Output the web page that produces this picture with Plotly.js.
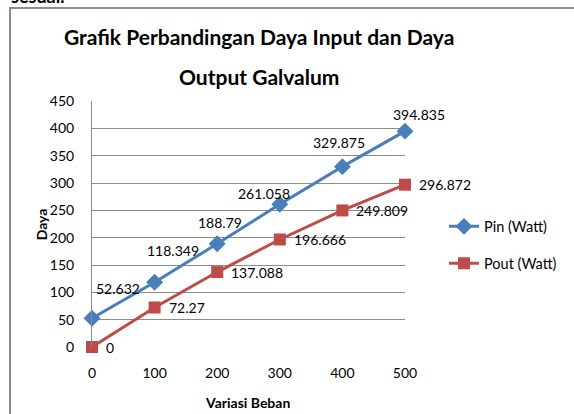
<!DOCTYPE html>
<html><head><meta charset="utf-8">
<script src="https://cdn.plot.ly/plotly-3.0.1.min.js"></script>
<style>
html,body{margin:0;padding:0;background:#fff;overflow:hidden;}
#frame{position:absolute;left:9px;top:7px;width:600px;height:420px;border:2px solid #8c8c8c;box-sizing:border-box;}
#chart{position:absolute;left:0;top:0;width:574px;height:414px;}
</style></head>
<body>
<div id="frame"></div>
<div id="chart"></div>
<script>
const beban = [0, 100, 200, 300, 400, 500];
const pin = [52.632, 118.349, 188.79, 261.058, 329.875, 394.835];
const pout = [0, 72.27, 137.088, 196.666, 249.809, 296.872];
const pinLabels = ['52.632', '118.349', '188.79', '261.058', '329.875', '394.835'];
const poutLabels = ['0', '72.27', '137.088', '196.666', '249.809', '296.872'];
const yTicks = [0, 50, 100, 150, 200, 250, 300, 350, 400, 450];
const xTicks = [0, 100, 200, 300, 400, 500];

const F = 'Lato, "Open Sans", sans-serif';

// label placement (pixel shifts) for the Pin labels, mimicking Excel's automatic placement
const pinShift = [[26, 30], [18, 32], [3, 21], [-16, 11], [-3, 24], [14, 17]];

const traces = [
  {x: beban, y: pin, name: 'Pin (Watt)', legendgroup: 'a', mode: 'lines+markers',
   line: {color: '#4a7ebb', width: 3},
   marker: {symbol: 'diamond', size: 13, color: '#4a7ebb'}, cliponaxis: false},
  {x: beban, y: pout, name: 'Pout (Watt)', legendgroup: 'b', mode: 'lines+markers',
   line: {color: '#be4b48', width: 3},
   marker: {symbol: 'square', size: 12, color: '#be4b48'}, cliponaxis: false}
];

const labelFont = {family: F, size: 14, color: '#000'};
const labelAnns = [];
beban.forEach((xv, i) => {
  labelAnns.push({x: xv, y: pin[i], xref: 'x', yref: 'y', text: pinLabels[i], showarrow: false,
    xanchor: 'center', yanchor: 'middle', xshift: pinShift[i][0], yshift: pinShift[i][1], font: labelFont});
  labelAnns.push({x: xv, y: pout[i], xref: 'x', yref: 'y', text: poutLabels[i], showarrow: false,
    xanchor: 'left', yanchor: 'middle', xshift: 12, yshift: 0, font: labelFont});
});

const layout = {
  width: 574, height: 414,
  margin: {l: 92, r: 169, t: 101, b: 67},
  paper_bgcolor: 'rgba(0,0,0,0)', plot_bgcolor: 'rgba(0,0,0,0)',
  font: {family: F, size: 14, color: '#000'},
  showlegend: true,
  legend: {x: 1.1246, y: 0.415, xanchor: 'left', yanchor: 'middle',
           font: {family: F, size: 14.5, color: '#000'}, tracegroupgap: 15},
  xaxis: {range: [0, 500], tickvals: xTicks, showgrid: false, zeroline: false,
          showline: false, ticks: '', ticklabelstandoff: 16},
  yaxis: {range: [0, 450], tickvals: yTicks, showgrid: true, gridcolor: '#8c8c8c', gridwidth: 1,
          zeroline: false, showline: true, linecolor: '#8c8c8c', ticks: '', ticklabelstandoff: 14},
  annotations: labelAnns.concat([
    {text: '<b>Grafik Perbandingan Daya Input dan Daya</b>', xref: 'paper', yref: 'paper',
     x: 0.5335, y: 1.262, xanchor: 'center', yanchor: 'middle', showarrow: false,
     font: {family: F, size: 21, color: '#000'}},
    {text: '<b>Output Galvalum</b>', xref: 'paper', yref: 'paper',
     x: 0.5335, y: 1.1016, xanchor: 'center', yanchor: 'middle', showarrow: false,
     font: {family: F, size: 21, color: '#000'}},
    {text: '<b>Variasi Beban</b>', xref: 'paper', yref: 'paper',
     x: 0.498, y: -0.2276, xanchor: 'center', yanchor: 'middle', showarrow: false,
     font: {family: F, size: 14, color: '#000'}},
    {text: '<b>Daya</b>', xref: 'paper', yref: 'paper', textangle: -90,
     x: -0.162, y: 0.5, xanchor: 'center', yanchor: 'middle', showarrow: false,
     font: {family: F, size: 14, color: '#000'}},
    {text: '<b>sesuai.</b>', xref: 'paper', yref: 'paper', x: -0.265, y: 1.425, xanchor: 'left',
     yanchor: 'middle', showarrow: false, font: {family: F, size: 18, color: '#000'}}
  ])
};
Plotly.newPlot('chart', traces, layout, {displayModeBar: false});
</script>
</body></html>
